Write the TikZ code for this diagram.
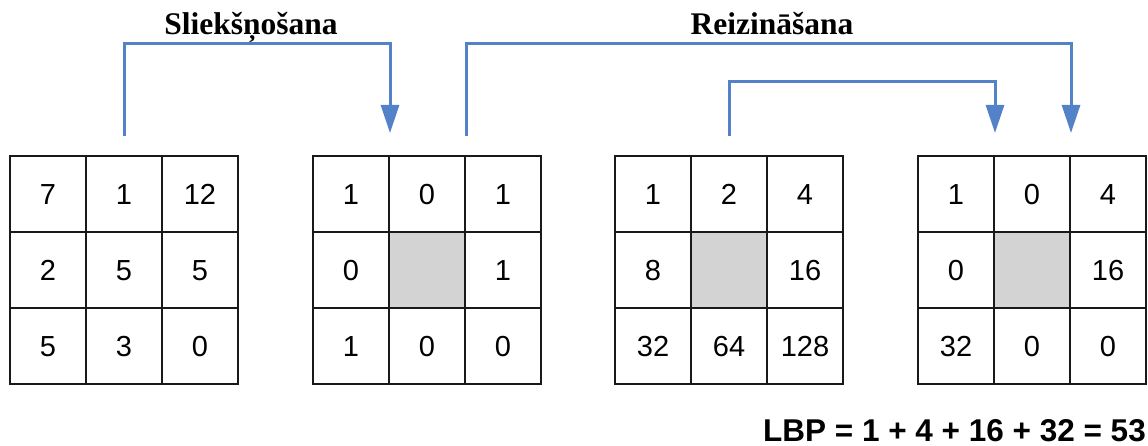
\documentclass[tikz,border=0pt]{standalone}
\usepackage{fontspec}
\setmainfont{Liberation Sans}
\newfontfamily\titlefont{Liberation Serif}
\usetikzlibrary{arrows.meta,calc}
\definecolor{flow}{RGB}{84,130,200}
\definecolor{hole}{RGB}{211,211,211}
\tikzset{
  cell/.style={draw=black!90, line width=2pt, minimum size=76pt, inner sep=0pt,
    text height=21pt, text depth=0pt,
    font=\fontsize{29}{32}\selectfont},
  flowline/.style={draw=flow, line width=3pt, -{Triangle[width=18pt,length=28pt]}},
  title/.style={font=\titlefont\bfseries\fontsize{31.5}{36}\selectfont, anchor=base},
  result/.style={font=\bfseries\fontsize{31.5}{36}\selectfont, anchor=base east, inner sep=0pt},
}
\begin{document}
\begin{tikzpicture}[x=1pt,y=-1pt]
\useasboundingbox (0,0) rectangle (1148,446);

% four 3x3 grids: input, thresholded, weights, weighted result
\foreach \g/\x/\vals/\mid in {
    1/10/{7,1,12,2,5,5,5,3,0}/white,
    2/313/{1,0,1,0,,1,1,0,0}/hole,
    3/615/{1,2,4,8,,16,32,64,128}/hole,
    4/918/{1,0,4,0,,16,32,0,0}/hole} {
  \foreach [count=\k from 0] \v in \vals {
    \pgfmathtruncatemacro\r{div(\k,3)}
    \pgfmathtruncatemacro\c{mod(\k,3)}
    \ifnum\k=4 \edef\f{\mid}\else\def\f{white}\fi
    \node[cell, fill=\f] (g\g-\r-\c) at (\x+38+76*\c, 156+38+76*\r) {\v};
  }
}

% route heights
\coordinate (hiroute) at (0,44);
\coordinate (loroute) at (0,82);

% arrow ends
\coordinate (s1) at ($(g1-0-1.north)+(0,-19)$);
\coordinate (e1) at ($(g2-0-0.north east)+(0,-22)$);
\coordinate (s2) at ($(g2-0-1.north east)+(0,-19)$);
\coordinate (e2) at ($(g4-0-1.north east)+(0,-22)$);
\coordinate (s3) at ($(g3-0-1.north)+(0,-19)$);
\coordinate (e3) at ($(g4-0-0.north east)+(0,-22)$);

\draw[flowline] (s1) -- (s1 |- hiroute) -| (e1);
\draw[flowline] (s2) -- (s2 |- hiroute) -| (e2);
\draw[flowline] (s3) -- (s3 |- loroute) -| (e3);

\node[title] (t1) at (251,35) {Sliekšņošana};
\node[title] (t2) at (772,35) {Reizināšana};

\node[result] (lbp) at (1146,441) {LBP = 1 + 4 + 16 + 32 = 53};
\end{tikzpicture}
\end{document}
